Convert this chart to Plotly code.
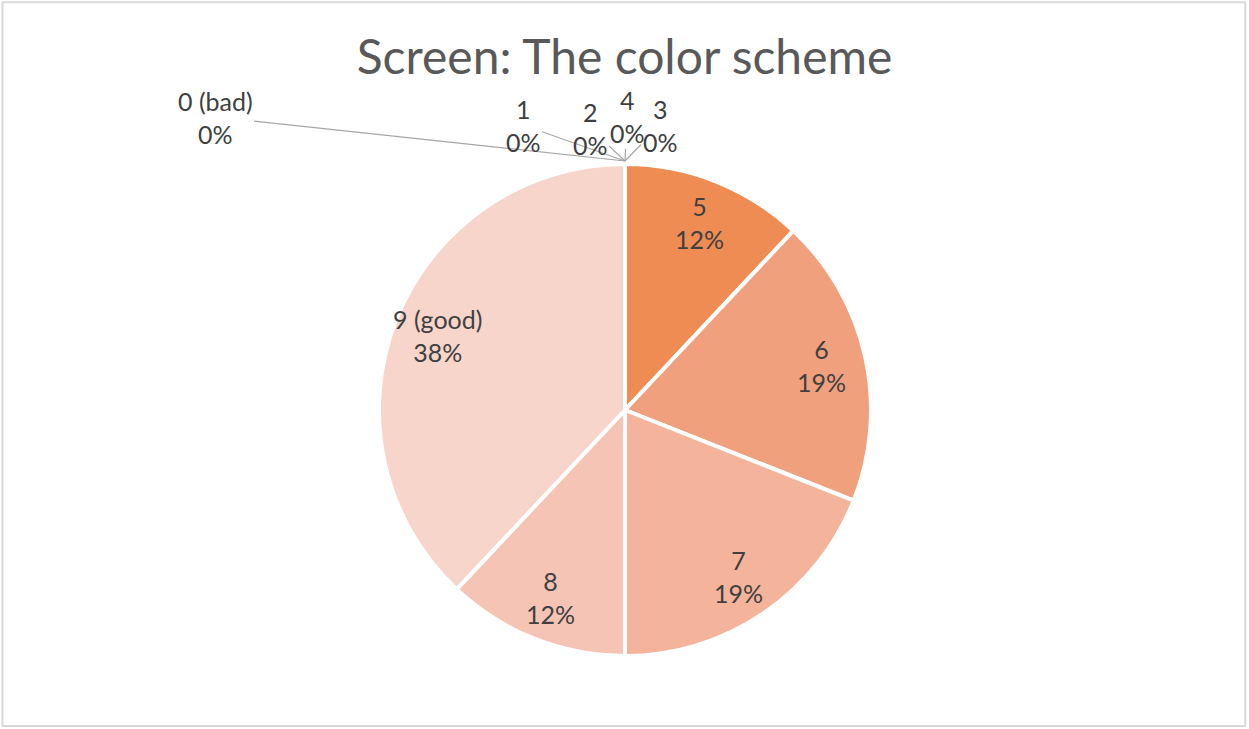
import math
import plotly.graph_objects as go

# Survey answers for "The color scheme" (share of responses, %)
categories = ["0 (bad)", "1", "2", "3", "4", "5", "6", "7", "8", "9 (good)"]
shares = [0, 0, 0, 0, 0, 12, 19, 19, 12, 38]
slice_colors = ["#C55A11", "#D5681F", "#E0732A", "#E87B34", "#EA8443",
                "#EE8C54", "#F1A07E", "#F4B39B", "#F6C4B5", "#F7D5CB"]

W, H = 1249, 729
cx, cy, r = 625, 410, 246

FONT = "Lato, Carlito, Calibri, sans-serif"
label_font = dict(family=FONT, size=25, color="#404040")

fig = go.Figure(go.Pie(
    labels=categories,
    values=shares,
    sort=False,
    direction="clockwise",
    rotation=0,
    marker=dict(colors=slice_colors, line=dict(color="white", width=4)),
    textinfo="none",
    showlegend=False,
    hoverinfo="label+percent",
    domain=dict(x=[(cx - r) / W, (cx + r) / W], y=[(H - cy - r) / H, (H - cy + r) / H]),
))

# Data labels for non-empty slices: placed along each slice's mid-angle
total = sum(shares)
label_radius = 0.82 * r
cum = 0.0
for cat, v in zip(categories, shares):
    start = cum
    cum += v
    if v == 0:
        continue
    theta = 2 * math.pi * (start + v / 2) / total
    px = cx + label_radius * math.sin(theta)
    py = cy - label_radius * math.cos(theta)
    fig.add_annotation(
        x=px / W, y=(H - py) / H, xref="paper", yref="paper",
        text=f"{cat}<br>{round(100 * v / total)}%", showarrow=False,
        font=label_font, align="center", xanchor="center", yanchor="middle",
    )

# Zero-share categories sit at 12 o'clock; label them with leader lines
top_x, top_y = cx / W, (H - cy + r + 3) / H
zero_label_offsets = {"0 (bad)": (-410, -44), "1": (-102, -36), "2": (-35, -33),
                      "3": (35, -36), "4": (2, -45)}
for cat, v in zip(categories, shares):
    if v != 0:
        continue
    ax, ay = zero_label_offsets[cat]
    fig.add_annotation(
        x=top_x, y=top_y, xref="paper", yref="paper",
        text=f"{cat}<br>{v}%", showarrow=True, arrowhead=0, arrowwidth=1.2,
        arrowcolor="#A6A6A6", ax=ax, ay=ay, font=label_font, align="center",
    )

# Chart frame
fig.add_shape(type="rect", xref="paper", yref="paper", x0=0.002, y0=0.004, x1=0.997, y1=0.997,
              line=dict(color="#D9D9D9", width=2), fillcolor="rgba(0,0,0,0)")

fig.update_layout(
    width=W, height=H,
    margin=dict(l=0, r=0, t=0, b=0),
    paper_bgcolor="white",
    plot_bgcolor="white",
    title=dict(text="Screen: The color scheme", x=0.5, xanchor="center", y=1 - 57 / H, yanchor="middle",
               font=dict(family=FONT, size=48, color="#595959")),
)

fig.write_html("out.html")
